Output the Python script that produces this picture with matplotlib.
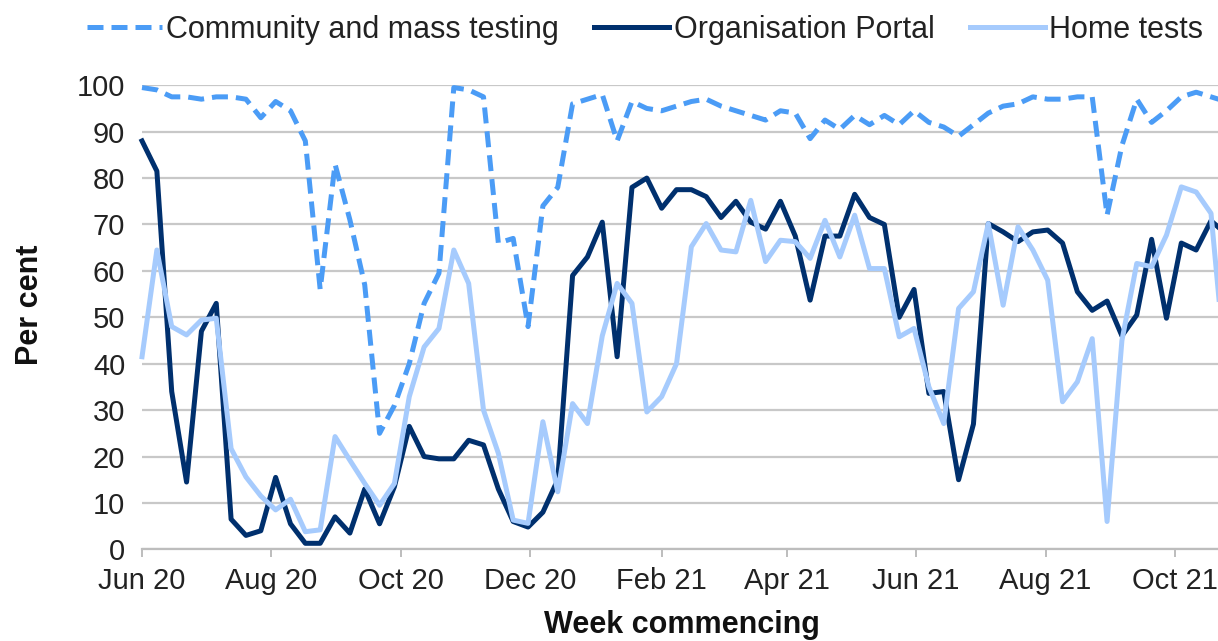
import numpy as np
import pandas as pd
import matplotlib
matplotlib.use("Agg")
import matplotlib.pyplot as plt
import matplotlib.dates as mdates

# =========================================
# DATA (per cent)
# =========================================
weeks = pd.date_range("2020-06-04", periods=74, freq="7D")

community = [
    99.5, 99, 97.5, 97.5, 97, 97.5, 97.5, 97, 93, 96.5,
    94.5, 88, 56, 83, 71, 57, 25, 31, 40, 53,
    59.5, 99.5, 99, 97.5, 66, 67, 48, 74, 78, 96,
    97, 98, 88, 96.5, 95, 94.5, 95.5, 96.5, 97, 95.5,
    94.5, 93.5, 92.5, 94.5, 94, 88.5, 92.5, 90.5, 93.5, 91.5,
    93.5, 91.5, 94.5, 92, 91, 89, 91.5, 94, 95.5, 96,
    97.5, 97, 97, 97.5, 97.5, 72, 87, 97, 92, 94.5,
    97.5, 98.5, 97.5, 96.5,
]

organisation = [
    88, 81.5, 34, 14.5, 47, 53, 6.5, 3, 4, 15.5,
    5.5, 1.3, 1.3, 7, 3.5, 13, 5.5, 13.5, 26.5, 20,
    19.5, 19.5, 23.5, 22.5, 13, 6, 4.8, 8, 15, 59,
    63, 70.5, 41.5, 78, 80, 73.5, 77.5, 77.5, 76, 71.5,
    75, 70.5, 69, 75, 67.5, 53.7, 67.5, 67.5, 76.5, 71.5,
    70, 50, 56, 33.6, 34, 15, 27, 70.2, 68.4, 66.3,
    68.4, 68.8, 66, 55.5, 51.5, 53.5, 46, 50.5, 66.8, 49.8,
    66, 64.5, 70.8, 68,
]

home = [
    41.5, 64.5, 48, 46.2, 49.4, 49.8, 21.7, 15.6, 11.5, 8.5,
    10.8, 3.8, 4.2, 24.3, 19.2, 14.2, 9.5, 14.2, 32.9, 43.6,
    47.6, 64.5, 57.3, 30, 20.7, 6.3, 5.6, 27.5, 12.4, 31.4,
    27.1, 46, 57.3, 53, 29.6, 32.9, 40, 65.2, 70.2, 64.5,
    64.1, 75.2, 62, 66.6, 66.3, 62.7, 70.9, 63, 72, 60.5,
    60.5, 45.8, 47.6, 35, 27.1, 51.9, 55.5, 70.2, 52.6, 69.5,
    64.5, 58, 31.8, 36.1, 45.4, 6, 45, 61.6, 60.9, 67.7,
    78.1, 77, 72.4, 38,
]

tick_dates = pd.to_datetime([
    "2020-06-04", "2020-08-04", "2020-10-04", "2020-12-04", "2021-02-04",
    "2021-04-04", "2021-06-04", "2021-08-04", "2021-10-04",
])

# =========================================
# PLOT
# =========================================
plt.rcParams["font.family"] = ["Liberation Sans", "DejaVu Sans"]

fig = plt.figure(figsize=(12.18, 6.41), dpi=100)
ax = fig.add_axes([0.1166, 0.143, 1 - 0.1166, 0.724])

lw = 3.6
ax.plot(weeks, community, color="#4B9CF6", lw=lw, dashes=(3.2, 1.6),
        label="Community and mass testing", clip_on=False, zorder=3)
ax.plot(weeks, organisation, color="#00306E", lw=lw,
        label="Organisation Portal", clip_on=False, zorder=3)
ax.plot(weeks, home, color="#A6CBFD", lw=lw,
        label="Home tests", clip_on=False, zorder=3)

ax.set_ylim(0, 100)
ax.set_yticks(np.arange(0, 101, 10))
ax.set_xlim(weeks[0], weeks[0] + pd.Timedelta(days=507.3))
ax.set_xticks(tick_dates)
ax.xaxis.set_major_formatter(mdates.DateFormatter("%b %y"))

ax.grid(axis="y", color="#C8C8C8", lw=1.6)
ax.set_axisbelow(True)
for side in ["left", "right", "top"]:
    ax.spines[side].set_visible(False)
ax.spines["bottom"].set_color("#BDBDBD")
ax.spines["bottom"].set_linewidth(1.6)

ax.tick_params(axis="y", length=0, pad=12, labelsize=21, labelcolor="#222222")
ax.tick_params(axis="x", length=6, width=1.4, color="#BDBDBD", pad=7,
               labelsize=21, labelcolor="#222222")

fig.text(30 / 1218, 1 - 305 / 641, "Per cent", rotation=90, ha="center",
         va="center", fontsize=22, fontweight="bold", color="#111111")
fig.text(682 / 1218, 1 - 625 / 641, "Week commencing", ha="center",
         va="center", fontsize=22, fontweight="bold", color="#111111")

ax.legend(loc="center", bbox_to_anchor=(0.5296, 0.953), bbox_transform=fig.transFigure,
          ncol=3, frameon=False, fontsize=22, handlelength=2.45, handletextpad=0.15,
          columnspacing=1.15, borderaxespad=0, borderpad=0, labelcolor="#222222")

fig.savefig("out.png", dpi=100)
